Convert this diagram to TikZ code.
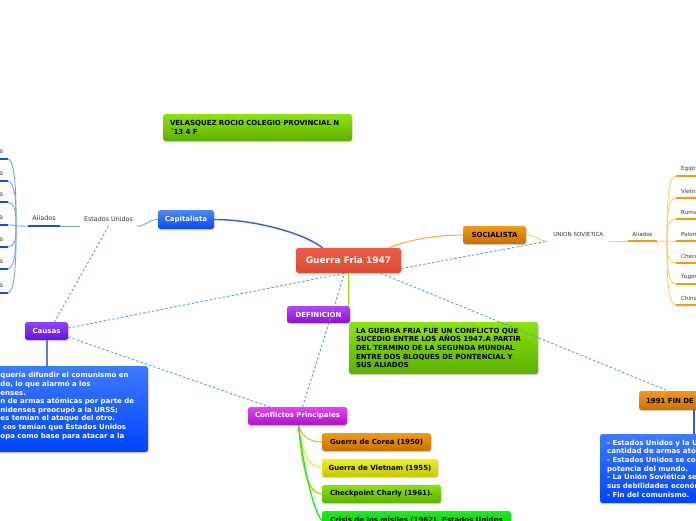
\documentclass[tikz,border=0pt]{standalone}
\usepackage{fontspec}
\setmainfont{DejaVu Sans}
\usetikzlibrary{shadows}
\definecolor{bluetop}{HTML}{4D88FF}
\definecolor{bluebot}{HTML}{0A46F0}
\definecolor{cboxtop}{HTML}{3D7BFF}
\definecolor{cboxbot}{HTML}{0044FF}
\definecolor{greentop}{HTML}{8BE40A}
\definecolor{greenbot}{HTML}{5CB000}
\definecolor{crisistop}{HTML}{18F018}
\definecolor{crisisbot}{HTML}{00CC00}
\definecolor{yeltop}{HTML}{EEF020}
\definecolor{yelbot}{HTML}{C2C800}
\definecolor{orgtop}{HTML}{F39A10}
\definecolor{orgbot}{HTML}{C87000}
\definecolor{caustop}{HTML}{8D45FF}
\definecolor{causbot}{HTML}{6515E0}
\definecolor{deftop}{HTML}{B545FF}
\definecolor{defbot}{HTML}{8A10D8}
\definecolor{conftop}{HTML}{E445F2}
\definecolor{confbot}{HTML}{B010C8}
\definecolor{gftop}{HTML}{EC5C44}
\definecolor{gfbot}{HTML}{E04C34}
\definecolor{dashblue}{HTML}{5A9BE0}
\definecolor{linkblue}{HTML}{2A5CE8}
\definecolor{thinblue}{HTML}{6D96FF}
\definecolor{thickblue}{HTML}{0F4FF5}
\definecolor{thinorange}{HTML}{FFC466}
\definecolor{thickorange}{HTML}{FF9900}
\definecolor{linkorange}{HTML}{F7A838}
\definecolor{linkyellow}{HTML}{F0F000}
\definecolor{linklime}{HTML}{90E000}
\definecolor{linkgreen}{HTML}{20F020}
\definecolor{lbltext}{HTML}{333333}
\begin{document}
\begin{tikzpicture}[x=1pt,y=-1pt,
  box/.style={rounded corners=2.5pt, inner sep=0pt,
    font=\bfseries\fontsize{7}{8.7}\selectfont,
    drop shadow={opacity=0.3,shadow xshift=0.6pt,shadow yshift=-1.2pt}},
  lbl/.style={inner sep=0pt, text=lbltext, font=\fontsize{6.4}{7.7}\selectfont},
  slbl/.style={inner sep=0pt, text=lbltext, font=\fontsize{5.6}{7}\selectfont},
  dashlink/.style={draw=dashblue, line width=0.9pt, dash pattern=on 2.5pt off 2pt},
  bluelink/.style={draw=linkblue, line width=1.4pt},
  bthin/.style={draw=thinblue, line width=0.8pt},
  bthick/.style={draw=thickblue, line width=2.2pt},
  othin/.style={draw=thinorange, line width=0.8pt},
  othick/.style={draw=thickorange, line width=2.2pt}
]
\useasboundingbox (0,0) rectangle (696,520);
\clip (0,0) rectangle (696,520);

% ---------- nodes ----------
\node[box, minimum height=27pt, text width=175pt, inner xsep=7pt, align=left,
  top color=greentop, bottom color=greenbot, text=black] (vel) at (257.5,127.5)
  {VELASQUEZ ROCIO COLEGIO PROVINCIAL N\\´13 4 F};

\node[box, minimum width=56pt, minimum height=19pt, top color=bluetop, bottom color=bluebot, text=white] (cap) at (186,219.5) {Capitalista};

\node[lbl, inner xsep=4pt, minimum height=14pt] (eu) at (108.5,219) {Estados Unidos};
\node[lbl, inner xsep=4.6pt, minimum height=15pt] (al1) at (44,218.5) {Aliados};

\node[box, minimum width=105pt, minimum height=25pt, top color=gftop, bottom color=gfbot, text=white,
  font=\bfseries\fontsize{9}{11}\selectfont] (gf) at (348.5,260.5) {Guerra Fria 1947};

\node[box, minimum width=63pt, minimum height=18pt, top color=orgtop, bottom color=orgbot, text=black] (soc) at (494.5,235) {SOCIALISTA};
\node[slbl, inner xsep=5.5pt, minimum height=14pt] (us) at (578.3,234) {UNION SOVIETICA};
\node[slbl, inner xsep=4.5pt, minimum height=14pt] (al2) at (642.5,234) {Aliados};

\node[box, minimum width=43pt, minimum height=18pt, top color=caustop, bottom color=causbot, text=white] (causas) at (46.5,331) {Causas};
\node[box, minimum width=168pt, minimum height=86pt, top color=cboxtop, bottom color=cboxbot] (cbox) at (64,409) {};
\node[anchor=north west, inner sep=0pt, align=left, text=white, font=\bfseries\fontsize{7}{8.6}\selectfont] (ctext) at (0.3,372)
  {quería difundir el comunismo en\\
   do, lo que alarmó a los\\
   enses.\\
   n de armas atómicas por parte de\\
   nidenses preocupó a la URSS;\\
   es temían el ataque del otro.\\
   \kern2.5pt cos temían que Estados Unidos\\
   opa como base para atacar a la};

\node[box, minimum width=63pt, minimum height=17pt, top color=deftop, bottom color=defbot, text=white] (def) at (318.5,314.5) {DEFINICION};
\node[box, minimum height=52pt, text width=175pt, inner xsep=7pt, align=left,
  top color=greentop, bottom color=greenbot, text=black] (defbox) at (443.5,348)
  {LA GUERRA FRIA FUE UN CONFLICTO QUE\\SUCEDIO ENTRE LOS AÑOS 1947.A PARTIR\\DEL TERMINO DE LA SEGUNDA MUNDIAL\\ENTRE DOS BLOQUES DE PONTENCIAL Y\\SUS ALIADOS};

\node[box, minimum width=99pt, minimum height=18pt, top color=conftop, bottom color=confbot, text=white] (conf) at (297.5,416) {Conflictos Principales};
\node[box, minimum width=109pt, minimum height=18pt, top color=orgtop, bottom color=orgbot, text=black] (corea) at (376.5,442) {Guerra de Corea (1950)};
\node[box, minimum width=116pt, minimum height=18pt, top color=yeltop, bottom color=yelbot, text=black] (viet) at (380,468) {Guerra de Vietnam (1955)};
\node[box, minimum width=119pt, minimum height=18pt, top color=greentop, bottom color=greenbot, text=black] (check) at (381.5,494) {Checkpoint Charly (1961).};
\node[box, minimum width=189pt, minimum height=19pt, top color=crisistop, bottom color=crisisbot, text=black] (crisis) at (416.5,520.5) {Crisis de los misiles (1962). Estados Unidos};

\node[box, minimum width=67pt, minimum height=19pt, text width=53pt, inner xsep=7pt, align=left,
  top color=orgtop, bottom color=orgbot, text=black] (fin) at (672.5,400.5) {1991 FIN DE};
\node[box, minimum width=106pt, minimum height=69pt, top color=cboxtop, bottom color=cboxbot] (finbox) at (653,468.5) {};
\node[anchor=north west, inner sep=0pt, align=left, text=white, font=\bfseries\fontsize{7}{8.7}\selectfont] (fintext) at (607,439.5)
  {- Estados Unidos y la U\\
   cantidad de armas ató\\
   - Estados Unidos se co\\
   potencia del mundo.\\
   - La Unión Soviética se\\
   sus debilidades económ\\
   - Fin del comunismo.};

% ---------- left allies ----------
\draw[bthin] (cap.west) .. controls (149,219.5) and (146,226) .. (eu.south east);
\draw[bthin] (eu.south west) -- (al1.south east);
\draw[bthick] (al1.south west) -- (al1.south east);
\coordinate (lj) at (16,226);
\draw[bthin] (al1.south west) -- (lj);
\foreach \yy/\tt [count=\i] in {159/a,181/a,202/a,225/a,247/a,269/a,293/a}{
  \coordinate (lb\i) at (7.5,\yy);
  \draw[bthin] (lj) .. controls (16.5,{\yy+0.3*(226-\yy)}) and (13.5,\yy) .. (lb\i);
  \draw[bthick] (lb\i) -- (-2,\yy);
  \node[lbl, anchor=east] (ll\i) at (3.2,\yy-7) {\tt};
}

% ---------- right allies ----------
\draw[draw=linkorange, line width=1pt] ([xshift=40pt]gf.north) .. controls (408,240) and (435,235) .. (soc.west);
\draw[othin] (soc.east) .. controls (536,235) and (538,241) .. (us.south west);
\draw[othin] (us.south east) -- (al2.south west);
\draw[othick] (al2.south west) -- (al2.south east);
\coordinate (rj) at (667,241);
\draw[othin] (al2.south east) -- (rj);
\foreach \yy/\tt [count=\i] in {176/Egipt,198/Vietna,219/Ruma,241/Polon,263/Checo,284/Yugos,305/China}{
  \coordinate (rb\i) at (675.5,\yy);
  \draw[othin] (rj) .. controls (666.5,{\yy+0.3*(241-\yy)}) and (669.5,\yy) .. (rb\i);
  \draw[othick] (rb\i) -- (698,\yy);
  \node[slbl, anchor=west] (rl\i) at (681,\yy-7) {\tt};
}

% ---------- main links ----------
\draw[bluelink] (cap.east) .. controls (252,219.5) and (302,232) .. ([xshift=-26pt]gf.north);
\draw[draw=linklime, line width=1.2pt] (gf.south) -- (gf.south |- def.north);
\draw[draw=thinblue!80!blue, line width=2pt] (causas.south) -- (causas.south |- cbox.north);
\draw[draw=linkblue, line width=1.5pt] ([xshift=21.5pt]fin.south) -- ([xshift=21.5pt]fin.south |- finbox.north);

\draw[draw=linkorange, line width=1pt] ([xshift=1pt]conf.south) .. controls (302,436) and (309,442) .. (corea.west);
\draw[draw=linkyellow, line width=1pt] ([xshift=1pt]conf.south) .. controls (302,452) and (309,468) .. (viet.west);
\draw[draw=linklime, line width=1.2pt] ([xshift=1pt]conf.south) .. controls (302,468) and (308,494) .. (check.west);
\draw[draw=linkgreen, line width=1.4pt] ([xshift=1pt]conf.south) .. controls (303,465) and (313,510) .. (crisis.west);

% ---------- dashed links ----------
\draw[dashlink] (eu.south) -- ([xshift=8pt]causas.north);
\draw[dashlink] ([yshift=3pt]causas.east) -- ([xshift=-4pt]gf.south);
\draw[dashlink] ([yshift=-6pt]causas.east) -- ([xshift=-28pt]conf.north);
\draw[dashlink] ([xshift=5pt]conf.north) -- ([xshift=-4pt]gf.south);
\draw[dashlink] ([xshift=32pt]gf.south) -- ([xshift=-4.5pt]fin.north);
\draw[dashlink] ([yshift=-8pt]gf.east) -- (us.south west);
\end{tikzpicture}
\end{document}
